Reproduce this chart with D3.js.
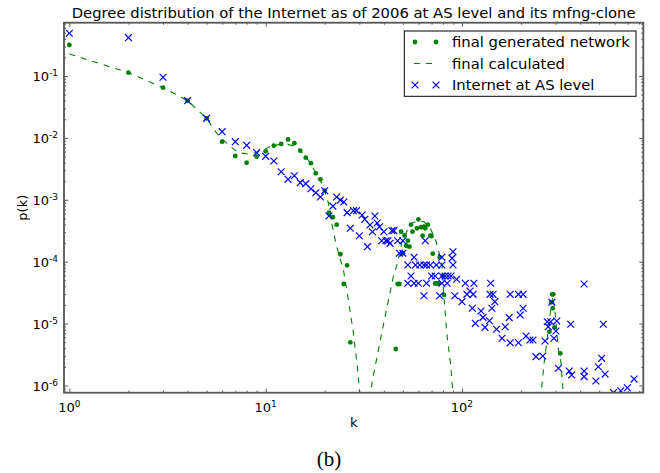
<!DOCTYPE html>
<html><head><meta charset="utf-8">
<script src="https://cdn.jsdelivr.net/npm/d3@7"></script>
<style>body{margin:0;background:#fff}svg{display:block}</style>
</head><body>
<svg id="c" width="660" height="473"></svg>
<script>
// ---- data ----
const title = "Degree distribution of the Internet as of 2006 at AS level and its mfng-clone";
const seriesNames = ["final generated network", "final calculated", "Internet at AS level"];
const xMajorTicks = [1, 10, 100];
const yMajorTicks = [1e-6, 1e-5, 1e-4, 1e-3, 1e-2, 1e-1];

const genK = [1,2,3,4,5,6,7,8,9,10,11,12,13,14,15,16,17,18,19,20,21,22,23,24,25,26,27,
  46,47,48,49,50,51,52,53,54,55,56,59,60,62,63,64,65,67,69,70,71,73,74,76,77,80,81,
  279,285,288,290,292,296,317];
const genP = [0.317,0.113,0.0647,0.0399,0.0207,0.00869,0.0051,0.00397,0.00497,0.00607,0.00748,0.00797,0.00942,0.00821,0.00621,0.00479,0.0039,0.00268,0.00214,0.0014,0.00062,0.000524,0.000396,0.000132,4.36e-5,8.75e-5,4.99e-6,
  3.89e-6,4.36e-5,4.36e-5,3.05e-4,1.37e-4,2.65e-4,1.81e-4,2.18e-4,1.75e-4,3.96e-4,3.05e-4,3.47e-4,4.84e-4,3.6e-4,2.63e-4,3.67e-4,3.47e-4,3.96e-4,2.63e-4,2.6e-4,1.35e-4,4.44e-5,4.44e-5,4.44e-5,1.18e-4,5.87e-5,2.9e-5,
  7.4e-6,2.21e-5,2.97e-5,1.77e-5,2.97e-5,8.7e-6,3.3e-6];

// calculated curve; null marks where p drops to zero (off the log axis)
const calcK = [1,2,3,4,5,5.63,6.46,7.26,8.33,9.55,10.5,12.3,14.4,16.5,18.2,19.7,20.9,21.7,23.0,24.9,26.4,28.0,29.3,30.0,30.5,
  31,
  34.0,34.3,36.1,39.0,42.2,44.7,46.9,49.3,52.7,55.7,60,64.3,69.3,74,78.9,80.5,83.7,87.8,89.5,90.5,
  100,
  252,255,262,270,278,285,291,300,310,319,326,328];
const calcP = [0.227,0.113,0.065,0.04,0.0207,0.0119,0.00768,0.00577,0.00543,0.00621,0.00721,0.00818,0.00721,0.0044,0.00261,0.00163,8.8e-4,4.17e-4,1.75e-4,7.35e-5,2.4e-5,6.97e-6,2.01e-6,9e-7,1e-7,
  null,
  1e-7,8.45e-7,2.01e-6,6.97e-6,2.4e-5,5.73e-5,9.4e-5,2.0e-4,3.25e-4,4.2e-4,4.63e-4,4.38e-4,3.37e-4,2.08e-4,9.4e-5,3.49e-5,6.97e-6,2.01e-6,9e-7,1e-7,
  null,
  1e-7,9.6e-7,2.28e-6,4.8e-6,1.02e-5,2.0e-5,2.8e-5,1.23e-5,3.74e-6,2.42e-6,1.02e-6,1e-7];

const asK = [1,2,3,4,5,6,7,8,9,10,11,12,13,14,15,16,17,18,19,20,21,22,23,24,25,26,27,28,29,30,31,32,33,34,35,36,37,38,39,40,41,42,43,44,45,47,48,50,50,
  53,55,53,57,57,58,60,61,64,64,65,66,66,69,70,73,74,77,79,79,79,79,82,84,85,88,89,90,90,92,94,
  100,104,106,110,113,114,115,117,125,128,131,138,139,140,142,144,147,150,160,166,174,176,176,194,194,198,205,205,212,222,230,238,
  258,265,272,275,283,287,294,301,304,310,352,358,362,419,419,419,481,495,515,525,536,591,644,696,753];
const asP = [0.49,0.416,0.0953,0.0399,0.0207,0.0126,0.00869,0.00759,0.00577,0.00504,0.00424,0.00284,0.00214,0.00245,0.00189,0.00182,0.00151,0.0013,0.00111,0.0014,0.000547,7.9e-4,1.11e-3,9.9e-4,9.2e-4,6.2e-4,3.47e-4,6.67e-4,6.67e-4,2.63e-4,5.68e-4,4.84e-4,1.75e-4,3.92e-4,3.05e-4,5.47e-4,4.22e-4,3.67e-4,2.18e-4,3.05e-4,2.18e-4,2.18e-4,1.98e-4,3.17e-4,3.17e-4,2.18e-4,1.37e-4,2.18e-4,1.37e-4,
  8.85e-5,5.87e-5,4.48e-5,1.18e-4,4.48e-5,8.85e-5,4.48e-5,8.85e-5,8.85e-5,2.82e-5,2.18e-4,8.85e-5,4.48e-5,8.85e-5,5.87e-5,5.87e-5,8.85e-5,2.82e-5,5.87e-5,4.48e-5,1.18e-4,8.85e-5,5.87e-5,4.48e-5,5.87e-5,5.87e-5,1.14e-4,8.85e-5,1.45e-4,2.82e-5,5.2e-5,
  2.26e-5,4.48e-5,2.97e-5,3.36e-5,1.77e-5,2.97e-5,4.48e-5,1.01e-5,1.6e-5,1.26e-5,8.7e-6,1.11e-5,2.97e-5,4.48e-5,1.77e-5,2.97e-5,2.26e-5,8.1e-6,5.8e-6,8.9e-6,1.25e-5,2.97e-5,4.91e-6,2.97e-5,4.91e-6,1.38e-5,2.97e-5,1.77e-5,6.3e-6,5.43e-6,5.43e-6,2.92e-6,
  3.0e-6,5.24e-6,1.07e-5,8.9e-6,1.07e-5,2.21e-5,5.8e-6,7.6e-6,1.1e-5,1.9e-6,1.71e-6,9.75e-6,1.48e-6,4.36e-5,1.71e-6,1.39e-6,1.18e-6,2.01e-6,2.75e-6,9.75e-6,1.53e-6,7.7e-7,8.2e-7,9.2e-7,1.27e-6];

// ---- layout ----
const L = 64, R = 643.3, T = 22.7, B = 392.7;
const GREEN = "#008000", BLUE = "#0000ff", FRAME = "#555";
const svg = d3.select("#c");
const x = d3.scaleLog().domain([0.939, 839]).range([L, R]);
const y = d3.scaleLog().domain([7.65e-7, 0.726]).range([B, T]);

svg.append("defs").append("clipPath").attr("id","clip")
  .append("rect").attr("x",L).attr("y",T).attr("width",R-L).attr("height",B-T);

function minors(dom, d0, d1){
  const out=[];
  for(let d=d0; d<=d1; d++) for(let n=2;n<=9;n++){const v=n*Math.pow(10,d); if(v>=dom[0]&&v<=dom[1]) out.push(v);}
  return out;
}
const xMinor = minors(x.domain(), 0, 2);
const yMinor = minors(y.domain(), -7, -1);

function addTicks(axisFn, scale, vals, len, transform){
  const g = svg.append("g").attr("transform", transform)
    .call(axisFn(scale).tickValues(vals).tickSizeInner(-len).tickSizeOuter(0).tickFormat(""));
  g.select(".domain").remove();
  g.selectAll("line").attr("stroke", FRAME).attr("stroke-width", 1);
}
addTicks(d3.axisBottom, x, xMajorTicks, 4, `translate(0,${B})`);
addTicks(d3.axisBottom, x, xMinor, 2, `translate(0,${B})`);
addTicks(d3.axisTop, x, xMajorTicks, 4, `translate(0,${T})`);
addTicks(d3.axisTop, x, xMinor, 2, `translate(0,${T})`);
addTicks(d3.axisLeft, y, yMajorTicks, 4, `translate(${L},0)`);
addTicks(d3.axisLeft, y, yMinor, 2, `translate(${L},0)`);
addTicks(d3.axisRight, y, yMajorTicks, 4, `translate(${R},0)`);
addTicks(d3.axisRight, y, yMinor, 2, `translate(${R},0)`);

// tick labels
const FONT = "DejaVu Sans, sans-serif";
xMajorTicks.forEach(v=>{
  const t = svg.append("text").attr("x", x(v)).attr("y", 411.5).attr("text-anchor","middle")
    .attr("font-family",FONT).attr("font-size",13).attr("fill","#000");
  t.append("tspan").text("10");
  t.append("tspan").attr("dy",-5).attr("font-size",9).text(String(Math.round(Math.log10(v))));
});
yMajorTicks.forEach(v=>{
  const t = svg.append("text").attr("x", 58).attr("y", y(v)+5.5).attr("text-anchor","end")
    .attr("font-family",FONT).attr("font-size",13).attr("fill","#000");
  t.append("tspan").text("10");
  t.append("tspan").attr("dy",-5).attr("font-size",9).text(String(Math.round(Math.log10(v))));
});

// data
const plot = svg.append("g").attr("clip-path","url(#clip)");
const calc = calcK.map((k,i)=>({k, p: calcP[i]}));
plot.append("path").datum(calc)
  .attr("d", d3.line().defined(d=>d.p!==null).x(d=>x(d.k)).y(d=>y(d.p)))
  .attr("fill","none").attr("stroke",GREEN).attr("stroke-width",1.1).attr("stroke-dasharray","6,6");
plot.append("g").selectAll("circle").data(genK.map((k,i)=>({k,p:genP[i]}))).join("circle")
  .attr("cx",d=>x(d.k)).attr("cy",d=>y(d.p)).attr("r",2.4).attr("fill",GREEN);
const xMark = "M-3.4,-3.4L3.4,3.4M-3.4,3.4L3.4,-3.4";
plot.append("g").selectAll("path").data(asK.map((k,i)=>({k,p:asP[i]}))).join("path")
  .attr("transform",d=>`translate(${x(d.k)},${y(d.p)})`).attr("d",xMark)
  .attr("stroke",BLUE).attr("stroke-width",1.2).attr("fill","none");

// frame
svg.append("rect").attr("x",L).attr("y",T).attr("width",R-L).attr("height",B-T)
  .attr("fill","none").attr("stroke",FRAME).attr("stroke-width",1.8);

// title, axis labels
svg.append("text").attr("x",(L+R)/2).attr("y",18).attr("text-anchor","middle")
  .attr("font-family",FONT).attr("font-size",14.8).text(title);
svg.append("text").attr("x",(L+R)/2).attr("y",426.5).attr("text-anchor","middle")
  .attr("font-family",FONT).attr("font-size",13).text("k");
svg.append("text").attr("transform",`translate(27,${(T+B)/2}) rotate(-90)`).attr("text-anchor","middle")
  .attr("font-family",FONT).attr("font-size",13).text("p(k)");
svg.append("text").attr("x",329).attr("y",466).attr("text-anchor","middle")
  .attr("font-family","Liberation Serif, serif").attr("font-size",21).text("(b)");

// legend
const lg = svg.append("g");
lg.append("rect").attr("x",404.3).attr("y",31).attr("width",231.7).attr("height",65.3)
  .attr("fill","#fff").attr("stroke","#000").attr("stroke-width",1);
const rows = [42, 63.5, 85];
const mx = [415, 436];
mx.forEach(px=>lg.append("circle").attr("cx",px).attr("cy",rows[0]).attr("r",2.4).attr("fill",GREEN));
lg.append("line").attr("x1",414).attr("x2",434).attr("y1",rows[1]).attr("y2",rows[1])
  .attr("stroke",GREEN).attr("stroke-width",1.1).attr("stroke-dasharray","6,6");
mx.forEach(px=>lg.append("path").attr("transform",`translate(${px},${rows[2]})`).attr("d",xMark)
  .attr("stroke",BLUE).attr("stroke-width",1.2).attr("fill","none"));
seriesNames.forEach((s,i)=>lg.append("text").attr("x",452).attr("y",rows[i]+5)
  .attr("font-family",FONT).attr("font-size",14.8).text(s));
</script>
</body></html>
